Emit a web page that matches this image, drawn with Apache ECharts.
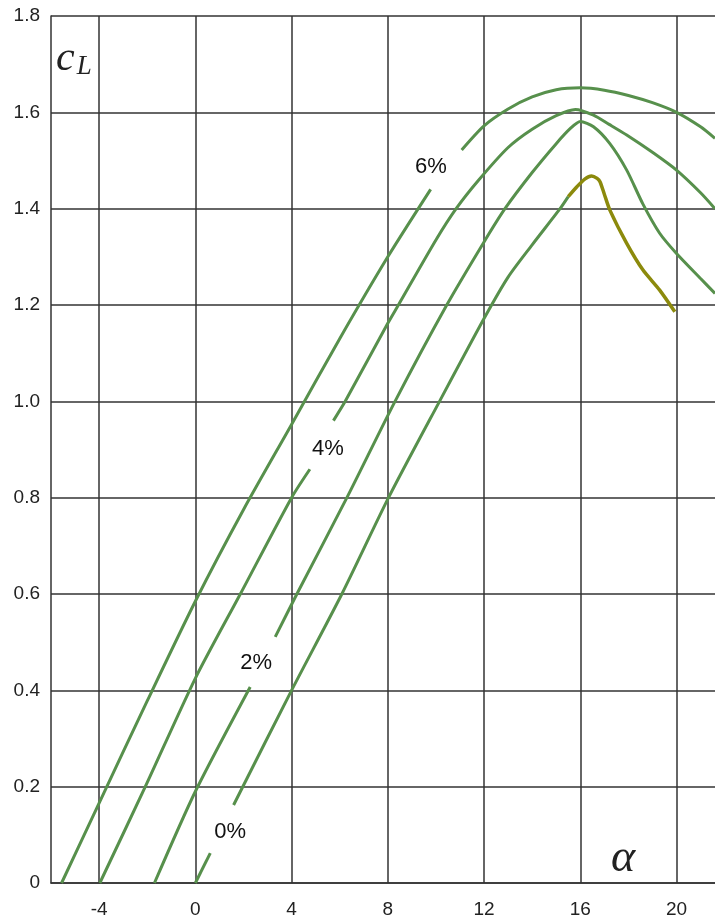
<!DOCTYPE html>
<html>
<head>
<meta charset="utf-8">
<script src="https://cdn.jsdelivr.net/npm/echarts@6/dist/echarts.min.js"></script>
<style>
html,body{margin:0;padding:0;background:#fff;}
#chart{width:715px;height:921px;}
</style>
</head>
<body>
<div id="chart"></div>
<script>
// ---- data (angle of attack alpha in degrees, lift coefficient cL) ----
var xTicks = [-4, 0, 4, 8, 12, 16, 20];
var yTicks = [0, 0.2, 0.4, 0.6, 0.8, 1.0, 1.2, 1.4, 1.6, 1.8];

// 6% camber
var c6Lower = [[-5.56,0],[-4,0.166],[-2,0.378],[0,0.585],[2,0.775],[4,0.952],[6,1.13],[8,1.30],[9.78,1.44]];
var c6Upper = [[11.07,1.522],[12,1.572],[13,1.607],[14,1.632],[15,1.647],[16,1.651],[17,1.646],[18,1.635],[19,1.62],[20,1.60],[21,1.57],[21.6,1.546]];
// 4% camber
var c4Lower = [[-3.97,0],[-2.08,0.2],[0,0.425],[1.87,0.6],[4,0.8],[4.76,0.859]];
var c4Upper = [[5.74,0.96],[6.23,1.0],[8,1.162],[8.44,1.2],[10,1.335],[10.84,1.4],[11.77,1.459],[13,1.527],[14,1.565],[15,1.593],[15.8,1.606],[16.55,1.594],[17.2,1.575],[17.93,1.553],[19,1.517],[20,1.48],[21,1.433],[21.6,1.40]];
// 2% camber
var c2Lower = [[-1.70,0],[0,0.19],[2.28,0.407]];
var c2Upper = [[3.32,0.511],[4.22,0.6],[6.3,0.8],[8.3,1.0],[10.45,1.2],[12,1.331],[12.87,1.4],[14,1.475],[15,1.535],[15.6,1.567],[16,1.581],[16.55,1.570],[17.23,1.535],[17.93,1.48],[18.6,1.41],[19.3,1.349],[20,1.307],[21,1.255],[21.6,1.224]];
// 0% camber (symmetric)
var c0Lower = [[0,0],[0.62,0.062]];
var c0Upper = [[1.59,0.162],[4,0.40],[6.09,0.6],[8.03,0.8],[10.15,1.0],[12,1.172],[13,1.258],[14,1.325],[15.16,1.4],[15.5,1.425]];
var c0Stall = [[15.5,1.425],[15.85,1.445],[16.2,1.462],[16.47,1.468],[16.7,1.463],[16.82,1.456],[17.0,1.43],[17.23,1.397],[17.93,1.328],[18.6,1.273],[19.3,1.231],[19.93,1.186]];

// curve labels placed in the gaps
var curveNames = ['0%', '2%', '4%', '6%'];
var labelX = [1.45, 2.53, 5.51, 9.79];
var labelY = [0.107, 0.456, 0.902, 1.487];

var GREEN = '#57904c';
var OLIVE = '#8c8a0c';
var GRIDC = '#333333';

function lineSeries(data, color, width) {
  return {
    type: 'line', data: data, showSymbol: false, symbol: 'none',
    smooth: 0.25,
    lineStyle: {color: color, width: width},
    silent: true, z: 3
  };
}

var chart = echarts.init(document.getElementById('chart'));
var labelData = curveNames.map(function (n, i) { return {name: n, value: [labelX[i], labelY[i]]}; });

var option = {
  backgroundColor: '#ffffff',
  animation: false,
  grid: {left: 51, right: 0, top: 16, bottom: 38, containLabel: false},
  xAxis: {
    type: 'value', min: -6, max: 21.6,
    axisLine: {show: true, onZero: false, lineStyle: {color: GRIDC, width: 1.5}},
    axisTick: {show: false, customValues: xTicks},
    axisLabel: {customValues: xTicks, margin: 17, color: '#222', fontSize: 19, fontFamily: 'Liberation Sans, Arial, sans-serif'},
    splitLine: {show: true, lineStyle: {color: GRIDC, width: 1.5}}
  },
  yAxis: {
    type: 'value', min: 0, max: 1.8, interval: 0.2,
    axisLine: {show: true, onZero: false, lineStyle: {color: GRIDC, width: 1.5}},
    axisTick: {show: false},
    axisLabel: {margin: 11, color: '#222', fontSize: 19, fontFamily: 'Liberation Sans, Arial, sans-serif',
      formatter: function (v) { return v === 0 ? '0' : v.toFixed(1); }},
    splitLine: {show: true, lineStyle: {color: GRIDC, width: 1.5}}
  },
  series: [
    lineSeries(c6Lower, GREEN, 3), lineSeries(c6Upper, GREEN, 3),
    lineSeries(c4Lower, GREEN, 3), lineSeries(c4Upper, GREEN, 3),
    lineSeries(c2Lower, GREEN, 3), lineSeries(c2Upper, GREEN, 3),
    lineSeries(c0Lower, GREEN, 3), lineSeries(c0Upper, GREEN, 3),
    lineSeries(c0Stall, OLIVE, 3.5),
    {
      type: 'scatter', data: labelData, symbolSize: 1, silent: true, z: 5,
      itemStyle: {opacity: 0},
      label: {show: true, position: 'inside', formatter: '{b}', color: '#111', opacity: 1, fontSize: 22,
        fontFamily: 'Liberation Sans, Arial, sans-serif'}
    }
  ],
  graphic: [
    {type: 'text', left: 56, top: 38, z: 10,
      style: {text: '{c|c}{l|L}', rich: {
        c: {fontSize: 42, fontStyle: 'italic', fontFamily: 'Liberation Serif, serif', fill: '#222', verticalAlign: 'bottom'},
        l: {fontSize: 27, fontStyle: 'italic', fontFamily: 'Liberation Serif, serif', fill: '#222', padding: [14, 0, 0, 2], verticalAlign: 'bottom'}
      }}},
    {type: 'text', left: 611, top: 836, z: 10,
      style: {text: 'α', fontSize: 46, fontStyle: 'italic', fontFamily: 'Liberation Serif, serif', fill: '#222'}}
  ]
};
chart.setOption(option);
</script>
</body>
</html>
